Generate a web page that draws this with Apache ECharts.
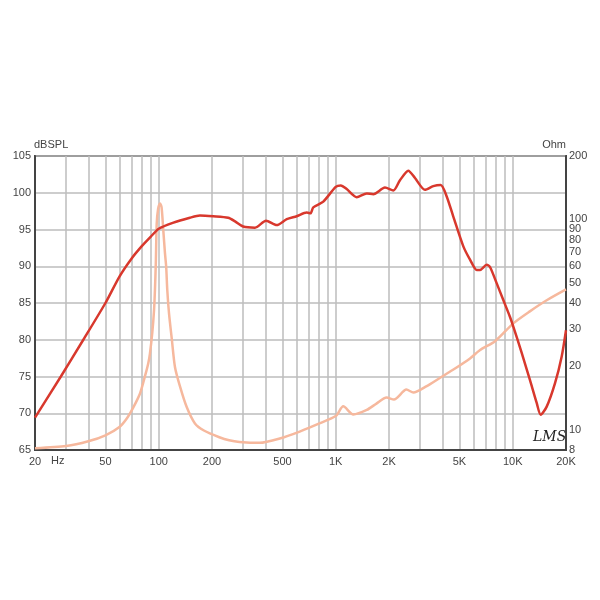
<!DOCTYPE html>
<html>
<head>
<meta charset="utf-8">
<script src="https://cdn.jsdelivr.net/npm/echarts@6/dist/echarts.min.js"></script>
<style>html,body{margin:0;padding:0;background:#fff;}#c{width:600px;height:600px;}</style>
</head>
<body>
<div id="c"></div>
<script>
// SPL response (Hz, dB)
const splFreq = [20, 28, 37.5, 50, 60, 70, 80, 90, 100, 120, 150, 171, 203, 247, 270, 300, 350, 404, 464, 529, 602, 686, 720, 747, 851, 1000, 1068, 1154, 1314, 1497, 1630, 1898, 2115, 2307, 2571, 2805, 3194, 3559, 3918, 4236, 4617, 5260, 5738, 6260, 6532, 7128, 7442, 8113, 8848, 9653, 10076, 11240, 12520, 13660, 14390, 15560, 17340, 18900, 20000];
const splDb = [69.4, 75, 80, 85, 88.6, 91, 92.7, 94, 95.1, 95.9, 96.6, 96.9, 96.8, 96.6, 96.1, 95.4, 95.25, 96.2, 95.6, 96.4, 96.8, 97.3, 97.2, 98.0, 98.8, 100.8, 101.0, 100.5, 99.4, 99.9, 99.8, 100.7, 100.3, 101.7, 103.0, 102.0, 100.4, 100.9, 101.05, 99.5, 96.75, 92.7, 90.9, 89.5, 89.5, 90.2, 89.9, 87.7, 85.4, 83.1, 81.8, 78.2, 74.5, 71.4, 69.8, 70.9, 74.1, 77.7, 81.3];

// Impedance (Hz, Ohm)
const impFreq = [20, 30, 40, 50, 60, 66, 72, 78.5, 84, 87.3, 89.2, 92, 94.1, 95.2, 96.3, 97.4, 99.2, 101.7, 103.8, 106.1, 108.5, 110.2, 111.8, 114.3, 118.7, 123.6, 132, 143.9, 160.2, 180, 220, 250, 286, 372, 483, 626, 809, 1000, 1103, 1256, 1497, 1699, 1939, 2134, 2509, 2747, 3267, 3872, 4577, 5738, 6540, 7980, 10076, 12500, 15560, 20000];
const impOhm = [8.15, 8.35, 8.8, 9.4, 10.3, 11.3, 12.8, 14.9, 18.2, 20.7, 23, 29, 37, 46, 62, 95, 112, 119, 114, 89, 68.8, 59.5, 46, 35.8, 26.7, 19.8, 16, 12.8, 10.7, 9.9, 9.2, 8.9, 8.74, 8.65, 9.07, 9.79, 10.7, 11.6, 12.9, 11.8, 12.4, 13.3, 14.2, 13.9, 15.5, 15.0, 16.1, 17.6, 19.2, 21.8, 23.9, 26.4, 32.0, 36.5, 41.2, 46.4];

// Axes
const gridFreqs = [20,30,40,50,60,70,80,90,100,200,300,400,500,600,700,800,900,1000,2000,3000,4000,5000,6000,7000,8000,9000,10000,20000];
const freqLabelValues = [20,50,100,200,500,1000,2000,5000,10000,20000];
const freqLabelTexts = ['20','50','100','200','500','1K','2K','5K','10K','20K'];
const ohmLabelValues = [8,9,10,20,30,40,50,60,70,80,90,100,200];

const splData = splFreq.map((f, i) => [f, splDb[i]]);
const impData = impFreq.map((f, i) => [f, impOhm[i]]);

const txt = {color: '#444', fontSize: 11, fontFamily: 'Liberation Sans, Arial, sans-serif'};
const chart = echarts.init(document.getElementById('c'));
chart.setOption({
  animation: false,
  backgroundColor: '#fff',
  grid: {left: 35, right: 34, top: 156, bottom: 150, show: true, borderColor: '#444', borderWidth: 2, containLabel: false},
  xAxis: {
    type: 'log', logBase: 10, min: 20, max: 20000,
    axisLine: {show: true, lineStyle: {color: '#444', width: 2}},
    axisTick: {show: false, customValues: gridFreqs},
    splitLine: {show: true, lineStyle: {color: '#bdbdbd', width: 1.5}},
    axisLabel: {show: true, customValues: freqLabelValues, margin: 6, ...txt,
      formatter: v => { const i = freqLabelValues.findIndex(x => Math.abs(x - v) / x < 1e-6); return i >= 0 ? freqLabelTexts[i] : ''; }}
  },
  yAxis: [{
    type: 'value', min: 65, max: 105, interval: 5, position: 'left',
    name: 'dBSPL', nameLocation: 'end', nameGap: 1, nameTextStyle: {...txt, align: 'left', padding: [0,0,0,-1]},
    axisLine: {show: true, lineStyle: {color: '#444', width: 2}},
    axisTick: {show: false},
    splitLine: {show: true, lineStyle: {color: '#bdbdbd', width: 1.5}},
    axisLabel: {margin: 4, ...txt}
  }, {
    type: 'log', logBase: 10, min: 8, max: 200, position: 'right',
    name: 'Ohm', nameLocation: 'end', nameGap: 1, nameTextStyle: {...txt, align: 'right', padding: [0,0,0,0]},
    axisLine: {show: true, lineStyle: {color: '#444', width: 2}},
    axisTick: {show: false, customValues: ohmLabelValues},
    splitLine: {show: false},
    axisLabel: {margin: 3, customValues: ohmLabelValues, showMinLabel: true, showMaxLabel: true, hideOverlap: false, ...txt, formatter: v => String(Math.round(v))}
  }],
  series: [{
    type: 'line', yAxisIndex: 1, data: impData, showSymbol: false, smooth: 0.25,
    lineStyle: {color: '#f6b89d', width: 2.5}, z: 3
  }, {
    type: 'line', yAxisIndex: 0, data: splData, showSymbol: false, smooth: 0.25,
    lineStyle: {color: '#d8382d', width: 2.5}, z: 4
  }],
  graphic: [
    {type: 'text', left: 51, top: 455, style: {text: 'Hz', fill: '#444', font: '11px "Liberation Sans", Arial, sans-serif'}},
    {type: 'text', left: 533, top: 430, style: {text: 'LMS', fill: '#222', font: 'italic 14px "DejaVu Serif", serif'}}
  ]
});
</script>
</body>
</html>
